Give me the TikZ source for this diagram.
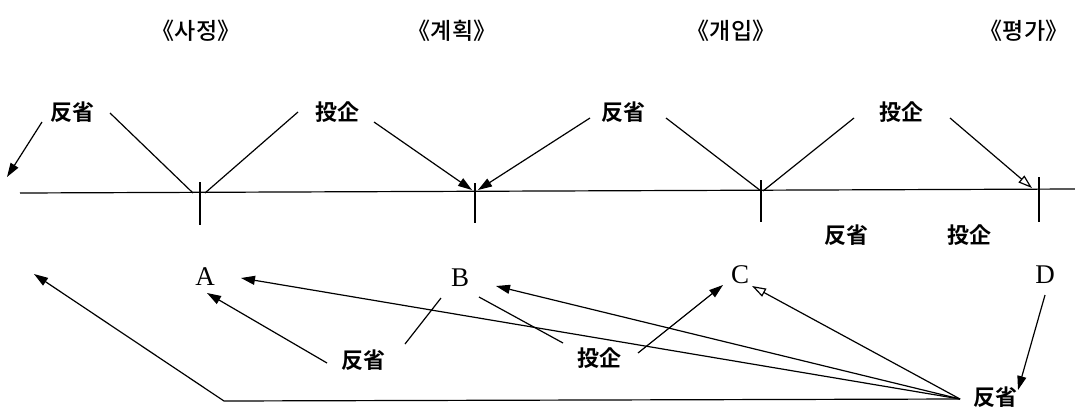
\documentclass[tikz,border=0pt]{standalone}
\usepackage{fontspec}
\newfontfamily\krfont{Noto Sans CJK KR Medium}
\newfontfamily\cjkbold{Noto Sans CJK KR Bold}
\setmainfont{Liberation Serif}
\usetikzlibrary{arrows.meta}
\tikzset{
  hdr/.style={font=\krfont\fontsize{23}{25}\selectfont, inner sep=0pt},
  word/.style={font=\cjkbold\fontsize{22}{24}\selectfont, inner sep=0pt},
  letter/.style={font=\fontsize{27}{29}\selectfont, inner sep=0pt},
  ln/.style={line width=1.2pt, black},
  arr/.style={ln, -{Triangle[length=14pt,width=9pt]}},
  oarr/.style={ln, -{Triangle[open,length=14pt,width=9pt,line width=1.2pt]}},
}
\begin{document}
\begin{tikzpicture}[x=1pt,y=-1pt]
\useasboundingbox (0,0) rectangle (1075,410);
% headers
\node[hdr] (h1) at (196,31) {《사정》};
\node[hdr] (h2) at (452,31) {《계획》};
\node[hdr] (h3) at (731,31) {《개입》};
\node[hdr] (h4) at (1024,31) {《평가》};
% main line and ticks
\coordinate (mL) at (20,193);
\coordinate (mR) at (1075,189);
\draw[ln] (mL) -- (mR);
\coordinate (k1t) at (200,182); \coordinate (k1b) at (200,225);
\coordinate (k2t) at (475,183); \coordinate (k2b) at (475,223);
\coordinate (k3t) at (761,180); \coordinate (k3b) at (761,222);
\coordinate (k4t) at (1039,177); \coordinate (k4b) at (1039,222);
\draw[ln] (k1t) -- (k1b);
\draw[ln] (k2t) -- (k2b);
\draw[ln] (k3t) -- (k3b);
\draw[ln] (k4t) -- (k4b);
% top row words
\node[word] (r1) at (72,112) {反省};
\node[word] (p1) at (337,112) {投企};
\node[word] (r2) at (623,112) {反省};
\node[word] (p2) at (901,112) {投企};
\coordinate (e0) at (7,177);
\coordinate (e1a) at (193,193);
\coordinate (e1b) at (205,193);
\coordinate (e2a) at (472,190);
\coordinate (e2b) at (478,190);
\coordinate (e3a) at (761,191);
\coordinate (e3b) at (763,191);
\coordinate (e4) at (1032,188);
\draw[arr] ([shift={(-30,10)}]r1.center) -- (e0);
\draw[ln]  ([shift={(38,1)}]r1.center) -- (e1a);
\draw[ln]  ([shift={(-39,0)}]p1.center) -- (e1b);
\draw[arr] ([shift={(37,10)}]p1.center) -- (e2a);
\draw[arr] ([shift={(-33,6)}]r2.center) -- (e2b);
\draw[ln]  ([shift={(43,6)}]r2.center) -- (e3a);
\draw[ln]  ([shift={(-47,6)}]p2.center) -- (e3b);
\draw[oarr] ([shift={(49,6)}]p2.center) -- (e4);
% middle row
\node[word] (rb) at (846,235) {反省};
\node[word] (pb) at (969,235) {投企};
% letters
\node[letter] (A) at (205,277) {A};
\node[letter] (B) at (460,278) {B};
\node[letter] (C) at (740,275) {C};
\node[letter] (D) at (1045,275) {D};
% bottom words
\node[word] (r3) at (363,360) {反省};
\node[word] (p3) at (599,358) {投企};
\node[word] (r4) at (995,397) {反省};
\coordinate (fan) at (960,399);
\coordinate (corner) at (224,401);
\coordinate (farL) at (34,274);
\draw[arr] ([shift={(-36,3)}]r3.center) -- ([shift={(2,16)}]A.center);
\draw[ln] ([shift={(42,-16)}]r3.center) -- ([shift={(-19,20)}]B.center);
\draw[ln] ([shift={(19,19)}]B.center) -- ([shift={(-36,-15)}]p3.center);
\draw[arr] ([shift={(39,-5)}]p3.center) -- ([shift={(-17,10)}]C.center);
\draw[arr] (fan) -- ([shift={(36,1)}]A.center);
\draw[arr] (fan) -- ([shift={(36,8)}]B.center);
\draw[oarr] (fan) -- ([shift={(12,11)}]C.center);
\draw[arr] (fan) -- (corner) -- (farL);
\draw[arr] ([shift={(0,20)}]D.center) -- ([shift={(23,-7)}]r4.center);
\end{tikzpicture}
\end{document}
